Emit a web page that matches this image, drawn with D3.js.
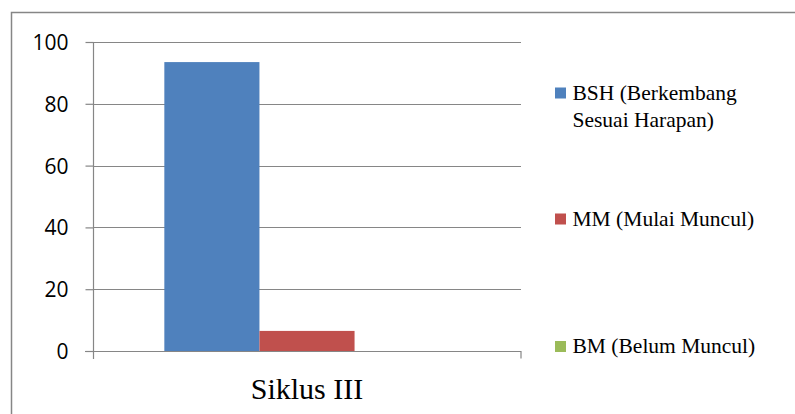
<!DOCTYPE html>
<html>
<head>
<meta charset="utf-8">
<script src="https://cdn.jsdelivr.net/npm/d3@7"></script>
<style>
  html, body { margin: 0; padding: 0; background: #fff; }
  svg { display: block; }
  svg text { font-family: "Liberation Serif" !important; }
  svg text.num { font-family: "Open Sans" !important; }
</style>
</head>
<body>
<svg id="chart" width="795" height="414"></svg>
<script>
// Category and series data
const categories = ["Siklus III"];
const seriesNames = ["BSH (Berkembang Sesuai Harapan)", "MM (Mulai Muncul)", "BM (Belum Muncul)"];
const legendLines = [["BSH (Berkembang", "Sesuai Harapan)"], ["MM (Mulai Muncul)"], ["BM (Belum Muncul)"]];
const seriesValues = [93.5, 6.5, 0];
const seriesColors = ["#4f81bd", "#c0504d", "#9bbb59"];
const yTicks = [0, 20, 40, 60, 80, 100];

const svg = d3.select("#chart");
const W = 795, H = 414;
const plot = { left: 93, right: 521, top: 42, bottom: 351 };
const gridColor = "#868686";

// Outer chart frame
svg.append("rect")
  .attr("x", 11.5).attr("y", 12.5)
  .attr("width", W).attr("height", H)
  .attr("fill", "none").attr("stroke", gridColor).attr("stroke-width", 1.5);

const y = d3.scaleLinear().domain([0, 100]).range([plot.bottom, plot.top]);
const x0 = d3.scaleBand().domain(categories).range([plot.left, plot.right]).paddingInner(0).paddingOuter(0.25);
const x1 = d3.scaleBand().domain(seriesNames).range([0, x0.bandwidth()]);

// Horizontal gridlines
svg.append("g").selectAll("line").data(yTicks.filter(d => d > 0)).join("line")
  .attr("x1", plot.left).attr("x2", plot.right)
  .attr("y1", d => Math.round(y(d)) + 0.5).attr("y2", d => Math.round(y(d)) + 0.5)
  .attr("stroke", gridColor).attr("stroke-width", 1.2);

// Y axis with tick labels
const yAxis = svg.append("g")
  .attr("transform", `translate(${plot.left + 0.5},0)`)
  .call(d3.axisLeft(y).tickValues(yTicks).tickSize(8).tickSizeOuter(0).tickPadding(17).tickFormat(d3.format("d")));
yAxis.attr("font-family", null).attr("font-size", null);
yAxis.select(".domain").attr("stroke", gridColor).attr("stroke-width", 1.2)
  .attr("d", `M0,${plot.top}V${plot.bottom + 8}`);
yAxis.selectAll(".tick line").attr("stroke", gridColor).attr("stroke-width", 1.2);
yAxis.selectAll(".tick text")
  .attr("class", "num")
  .attr("font-family", "Open Sans")
  .attr("font-size", 21)
  .attr("fill", "#000").attr("dy", "0.36em");

// Bars
const groups = svg.append("g").selectAll("g").data(categories).join("g")
  .attr("transform", d => `translate(${x0(d)},0)`);
groups.selectAll("rect").data(seriesNames.map((s, i) => ({ s, v: seriesValues[i], c: seriesColors[i] }))).join("rect")
  .attr("x", d => x1(d.s)).attr("width", x1.bandwidth())
  .attr("y", d => y(d.v)).attr("height", d => y(0) - y(d.v))
  .attr("fill", d => d.c);

// X axis: baseline only, category label drawn below it
const xAxis = svg.append("g")
  .attr("transform", `translate(0,${Math.round(plot.bottom) + 0.5})`)
  .call(d3.axisBottom(x0).tickSize(0).tickSizeOuter(0).tickFormat(""));
xAxis.select(".domain").attr("stroke", gridColor).attr("stroke-width", 1.2)
  .attr("d", `M${plot.left - 8},0H${plot.right}V7`);

svg.selectAll("text.cat").data(categories).join("text")
  .attr("class", "cat")
  .attr("x", d => x0(d) + x0.bandwidth() / 2)
  .attr("y", 399)
  .attr("text-anchor", "middle")
  .attr("font-family", "Liberation Serif")
  .attr("font-size", 30)
  .attr("fill", "#000")
  .text(d => d);

// Legend swatches and labels
const legendX = 555;
const legendBaselines = [99.5, 225.5, 353];
svg.selectAll("rect.swatch").data(seriesNames).join("rect")
  .attr("class", "swatch")
  .attr("x", legendX).attr("y", (d, i) => legendBaselines[i] - 12)
  .attr("width", 11).attr("height", 11)
  .attr("fill", (d, i) => seriesColors[i]);

const legendRows = legendLines.flatMap((lines, i) => lines.map((t, j) => ({ t, yy: legendBaselines[i] + j * 27 })));
svg.selectAll("text.leg").data(legendRows).join("text")
  .attr("class", "leg")
  .attr("x", legendX + 17.5).attr("y", d => d.yy)
  .attr("font-family", "Liberation Serif")
  .attr("font-size", 21.5)
  .attr("fill", "#000")
  .text(d => d.t);
</script>
</body>
</html>
